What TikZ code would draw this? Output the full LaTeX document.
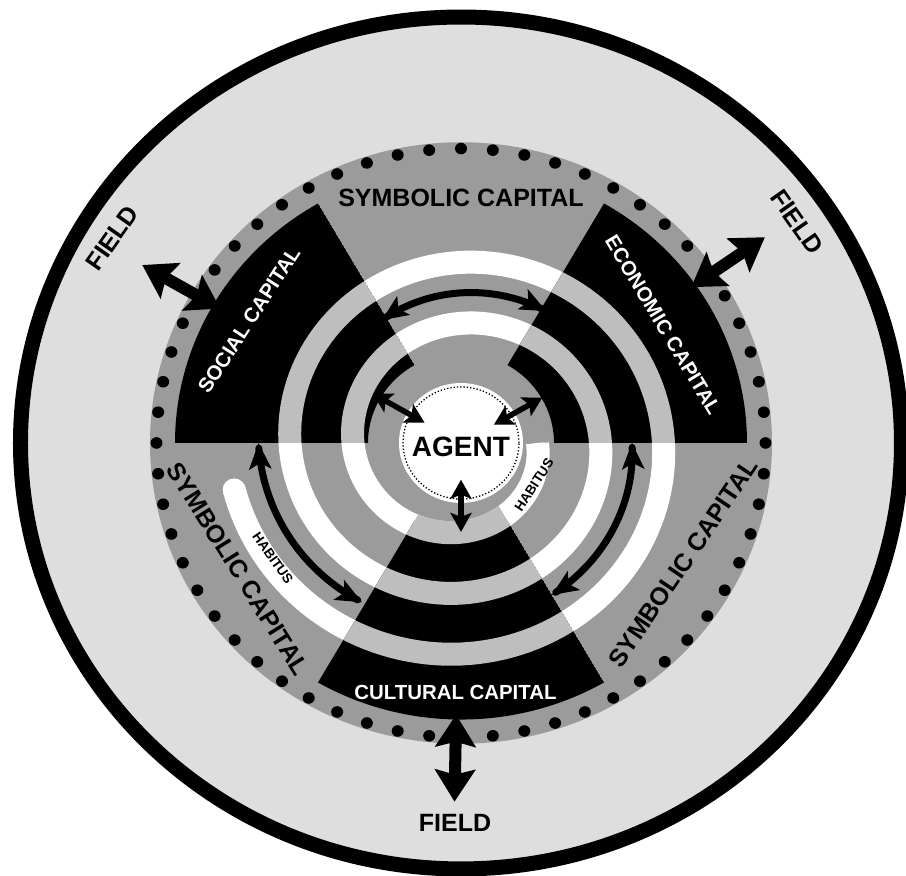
\documentclass[tikz,border=0pt]{standalone}
\usepackage{fontspec}
\setmainfont{Liberation Sans}
\usetikzlibrary{arrows.meta}
\definecolor{bgl}{HTML}{DEDEDE}
\definecolor{midg}{HTML}{9B9B9B}
\definecolor{lgb}{HTML}{BEBEBE}
\tikzset{
  caplabel/.style={text=white, font=\bfseries\fontsize{20.4}{22}\selectfont, inner sep=0pt},
  symlabel/.style={text=black, font=\bfseries\fontsize{25}{27}\selectfont, inner sep=0pt},
  fieldlabel/.style={text=black, font=\bfseries\fontsize{25}{27}\selectfont, inner sep=0pt},
  habituslabel/.style={text=black, font=\bfseries\fontsize{13.5}{14}\selectfont, inner sep=0pt},
  agentlabel/.style={text=black, font=\bfseries\fontsize{28}{30}\selectfont, inner sep=0pt},
  fieldarrow/.style={line width=12pt, {Stealth[length=32pt,width=40pt,inset=5pt]}-{Stealth[length=32pt,width=40pt,inset=5pt]}},
  agentarrow/.style={line width=5.5pt, {Stealth[length=19pt,width=21pt,inset=4pt]}-{Stealth[length=19pt,width=21pt,inset=4pt]}},
  curvarrow/.style={line width=7pt, line join=round, {Stealth[length=26pt,width=22pt,inset=6pt]}-{Stealth[length=26pt,width=22pt,inset=6pt]}},
  spiralband/.style={line width=23pt, line join=round}
}
\begin{document}
\begin{tikzpicture}[x=1pt,y=1pt,yscale=0.967]
\useasboundingbox (-461,-447.8) rectangle (445,458.1);
\fill[white] (-461,-447.8) rectangle (445,458.1);
% field disk and outer ring
\fill[bgl] (0,0) circle (440.5);
\draw[black, line width=15pt] (0,0) circle (440.5);
% symbolic gray disk
\fill[midg] (0,0) circle (311);
% white spiral (habitus)
\draw[white, spiralband] plot[domain=192:1080, samples=400, variable=\t] (\t:{265.5-0.175*\t});
\fill[white] (192:{265.5-0.175*192}) circle (11.5);
% capital sectors
\foreach \a in {0,120,240}{
  \begin{scope}
    \clip (0,0) -- (\a:420) arc[start angle=\a, end angle=\a+60, radius=420] -- cycle;
    \fill[black] (\a:93) arc[start angle=\a, end angle=\a+60, radius=93] -- ({\a+60}:286) arc[start angle=\a+60, end angle=\a, radius=286] -- cycle;
    \draw[lgb, spiralband] plot[domain=192:1080, samples=400, variable=\t] (\t:{265.5-0.175*\t});
  \end{scope}
}
% agent
\fill[white] (0,0) circle (62);
\draw[black, line width=1.3pt, dash pattern=on 1.3pt off 2pt] (0,0) circle (58);
% dotted boundary
\foreach \i in {0,...,59}{
  \fill[black] ({\i*6+90}:304.5) circle (6);
}
% curved arrows between capitals
\draw[curvarrow] plot[domain=180:239, samples=40, variable=\t] (\t:{234-0.175*\t});
\draw[curvarrow] plot[domain=300:360, samples=40, variable=\t] (\t:{234-0.175*\t});
\draw[curvarrow] plot[domain=418:482, samples=40, variable=\t] (\t:{234-0.175*\t});
% agent arrows
\coordinate (aULin) at (150:42);
\coordinate (aULout) at (150:102);
\coordinate (aURin) at (30:38);
\coordinate (aURout) at (30:94);
\coordinate (aBin) at (270:38);
\coordinate (aBout) at (270:92);
\draw[agentarrow] (aULin) -- (aULout);
\draw[agentarrow] (aURin) -- (aURout);
\draw[agentarrow] (aBin) -- (aBout);
% field arrows
\coordinate (fTLin) at (150:278);
\coordinate (fTLout) at (150:368);
\coordinate (fTRin) at (35:281);
\coordinate (fTRout) at (35:371);
\coordinate (fBin) at (269:281);
\coordinate (fBout) at (269:371);
\draw[fieldarrow] (fTLin) -- (fTLout);
\draw[fieldarrow] (fTRin) -- (fTRout);
\draw[fieldarrow] (fBin) -- (fBout);
% labels
\node[agentlabel] (agent) at (0,-4) {AGENT};
\node[symlabel] (symtop) at (0,253.4) {SYMBOLIC CAPITAL};
\node[symlabel, rotate=-58] (symleft) at (-223,-130) {SYMBOLIC CAPITAL};
\node[symlabel, rotate=56] (symright) at (222,-124.1) {SYMBOLIC CAPITAL};
\node[caplabel, rotate=57] (social) at (-212,127.2) {SOCIAL CAPITAL};
\node[caplabel, rotate=-59] (economic) at (202,122) {ECONOMIC CAPITAL};
\node[caplabel] (cultural) at (-5.5,-258.5) {CULTURAL CAPITAL};
\node[fieldlabel, rotate=55] (fieldTL) at (-349,212) {FIELD};
\node[fieldlabel, rotate=-55] (fieldTR) at (336,228.5) {FIELD};
\node[fieldlabel] (fieldB) at (-6,-393) {FIELD};
\node[habituslabel, rotate=57] (habR) at (73,-43.4) {HABITUS};
\node[habituslabel, rotate=-55] (habL) at (-188,-119) {HABITUS};
\end{tikzpicture}
\end{document}
